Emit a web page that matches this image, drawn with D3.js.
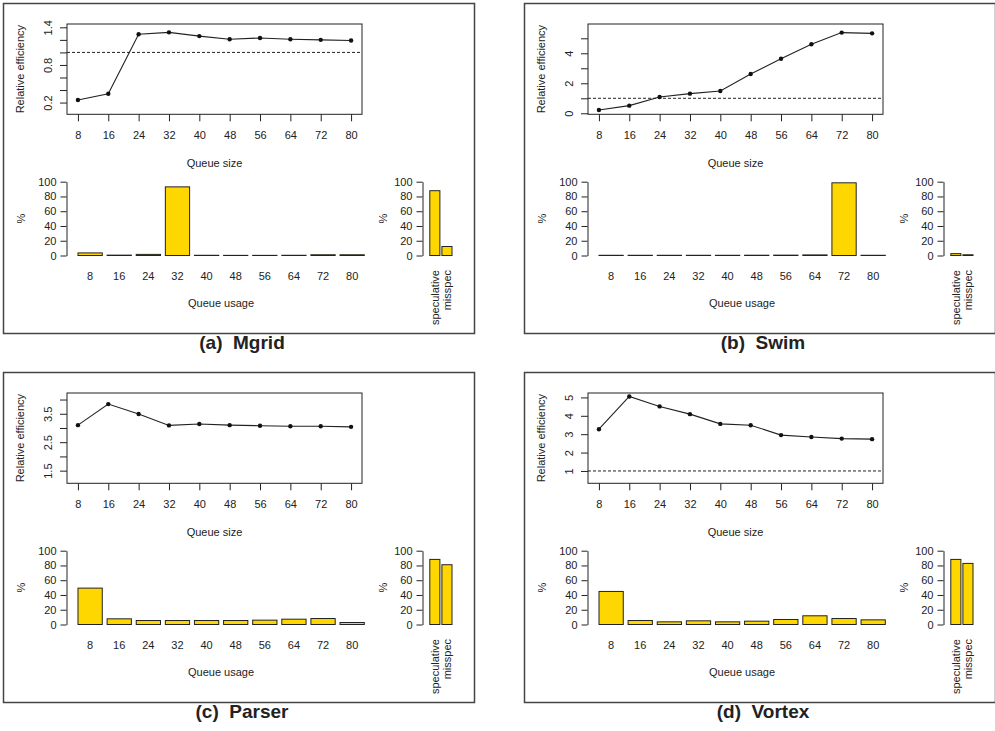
<!DOCTYPE html>
<html>
<head>
<meta charset="utf-8">
<script src="https://cdn.jsdelivr.net/npm/d3@7"></script>
<style>
  body { margin: 0; background: #fff; }
  text { font-family: "Liberation Sans", Arial, Helvetica, sans-serif; fill: #222; }
</style>
</head>
<body>
<div id="chart"></div>
<script>
// queue sizes on the x axis of every line plot and bar plot
let queueSizes = [8, 16, 24, 32, 40, 48, 56, 64, 72, 80];
let specLabels = ["speculative", "misspec"];

// relative efficiency (line plots)
let effMgrid  = [0.24, 0.34, 1.29, 1.32, 1.26, 1.21, 1.23, 1.21, 1.20, 1.19];
let effSwim   = [0.22, 0.51, 1.09, 1.31, 1.49, 2.62, 3.64, 4.60, 5.38, 5.33];
let effParser = [3.10, 3.84, 3.49, 3.09, 3.14, 3.10, 3.08, 3.06, 3.06, 3.04];
let effVortex = [3.27, 5.05, 4.51, 4.09, 3.56, 3.49, 2.95, 2.85, 2.76, 2.73];

// queue usage in % (bar plots)
let usageMgrid  = [3.5, 0.5, 1.5, 93, 0.3, 0.2, 0.2, 0.3, 1, 1];
let usageSwim   = [0.3, 0.3, 0.3, 0.3, 0.3, 0.4, 0.5, 0.8, 98.5, 0.3];
let usageParser = [49.3, 7.7, 5.4, 5.4, 5.4, 5.4, 5.9, 7.2, 8.1, 2.7];
let usageVortex = [44.8, 5.4, 3.6, 5, 3.6, 4.5, 6.8, 11.8, 8.1, 6.3];

// speculative / misspec in %
let specMgrid  = [87.8, 12.2];
let specSwim   = [2.5, 1];
let specParser = [88.2, 81];
let specVortex = [88.2, 82.8];

// y ticks of the line plots, and which of them carry a label
let ticksMgrid  = [0.2, 0.4, 0.6, 0.8, 1.0, 1.2, 1.4],  labelsMgrid  = [0.2, 0.8, 1.4];
let ticksSwim   = [0, 1, 2, 3, 4, 5],                  labelsSwim   = [0, 2, 4];
let ticksParser = [1.5, 2, 2.5, 3, 3.5, 4],            labelsParser = [1.5, 2.5, 3.5];
let ticksVortex = [1, 2, 3, 4, 5],                     labelsVortex = [1, 2, 3, 4, 5];

let pctTicks = [0, 20, 40, 60, 80, 100];

let panels = [
    {title: "(a)  Mgrid",  dx: 0,   dy: 0,   eff: effMgrid,  usage: usageMgrid,  spec: specMgrid,  ticks: ticksMgrid,  labels: labelsMgrid,  ydom: [0.013, 1.453]},
    {title: "(b)  Swim",   dx: 521, dy: 0,   eff: effSwim,   usage: usageSwim,   spec: specSwim,   ticks: ticksSwim,   labels: labelsSwim,   ydom: [-0.067, 5.953]},
    {title: "(c)  Parser", dx: 0,   dy: 369, eff: effParser, usage: usageParser, spec: specParser, ticks: ticksParser, labels: labelsParser, ydom: [1.055, 4.23]},
    {title: "(d)  Vortex", dx: 521, dy: 369, eff: effVortex, usage: usageVortex, spec: specVortex, ticks: ticksVortex, labels: labelsVortex, ydom: [0.329, 5.24]}
];

let width = 995, height = 731;

let svg = d3.select("#chart").append("svg")
    .attr("width", width)
    .attr("height", height);

// layout of one panel (relative to its corner)
let box = {x0: 67, x1: 362, y0: 24, y1: 114.3};
let barTop = 181.7, barBase = 255.5;

let x = d3.scaleLinear()
    .domain([8 - 2.88, 80 + 2.88])
    .range([box.x0, box.x1]);

let xBar = d3.scaleBand()
    .domain(queueSizes)
    .range([78, 364.3])
    .paddingInner(1 / 6)
    .paddingOuter(0);

let xSpec = d3.scaleBand()
    .domain(specLabels)
    .range([429.8, 452])
    .paddingInner(1 / 6)
    .paddingOuter(0);

let yPct = d3.scaleLinear()
    .domain([0, 100])
    .range([barBase, barTop]);

panels.forEach(function(p) {
    let g = svg.append("g")
        .attr("transform", "translate(" + p.dx + "," + p.dy + ")");

    // outer frame
    g.append("rect")
        .attr("x", 3.5)
        .attr("y", 3.5)
        .attr("width", 471)
        .attr("height", 330)
        .attr("fill", "none")
        .attr("stroke", "#444")
        .attr("stroke-width", 1.5);

    // caption
    g.append("text")
        .attr("x", 242)
        .attr("y", 349)
        .attr("text-anchor", "middle")
        .style("font-size", "19px")
        .style("font-weight", "bold")
        .style("white-space", "pre")
        .text(p.title);

    // ---- line plot ----
    let y = d3.scaleLinear()
        .domain(p.ydom)
        .range([box.y1, box.y0]);

    let yAxis = d3.axisLeft(y)
        .tickValues(p.ticks)
        .tickSize(7)
        .tickSizeOuter(0)
        .tickFormat(function(d) { return p.labels.indexOf(d) >= 0 ? String(d) : ""; });

    let ya = g.append("g")
        .attr("transform", "translate(" + box.x0 + ",0)")
        .call(yAxis);
    ya.select(".domain").remove();
    ya.selectAll("line").attr("stroke", "#222");
    ya.selectAll("text")
        .attr("x", null)
        .attr("dy", null)
        .attr("text-anchor", "middle")
        .attr("transform", "translate(-15,0) rotate(-90)")
        .style("font-size", "11px");

    let xAxis = d3.axisBottom(x)
        .tickValues(queueSizes)
        .tickSize(7)
        .tickSizeOuter(0)
        .tickPadding(10);

    let xa = g.append("g")
        .attr("transform", "translate(0," + box.y1 + ")")
        .call(xAxis);
    xa.select(".domain").remove();
    xa.selectAll("line").attr("stroke", "#222");
    xa.selectAll("text").style("font-size", "11px");

    // reference line at 1
    if (p.ydom[0] < 1) {
        g.append("line")
            .attr("x1", box.x0)
            .attr("x2", box.x1)
            .attr("y1", y(1))
            .attr("y2", y(1))
            .attr("stroke", "#222")
            .attr("stroke-width", 1)
            .attr("stroke-dasharray", "3,2");
    }

    let line = d3.line()
        .x(function(d, i) { return x(queueSizes[i]); })
        .y(function(d) { return y(d); });

    g.append("path")
        .datum(p.eff)
        .attr("d", line)
        .attr("fill", "none")
        .attr("stroke", "#222")
        .attr("stroke-width", 1.1);

    g.selectAll(".pt")
        .data(p.eff)
        .enter().append("circle")
        .attr("class", "pt")
        .attr("cx", function(d, i) { return x(queueSizes[i]); })
        .attr("cy", function(d) { return y(d); })
        .attr("r", 2.2)
        .attr("fill", "#111");

    g.append("rect")
        .attr("x", box.x0)
        .attr("y", box.y0)
        .attr("width", box.x1 - box.x0)
        .attr("height", box.y1 - box.y0)
        .attr("fill", "none")
        .attr("stroke", "#222")
        .attr("stroke-width", 1);

    g.append("text")
        .attr("transform", "translate(24," + ((box.y0 + box.y1) / 2) + ") rotate(-90)")
        .attr("text-anchor", "middle")
        .style("font-size", "11px")
        .text("Relative efficiency");

    g.append("text")
        .attr("x", (box.x0 + box.x1) / 2)
        .attr("y", 166.5)
        .attr("text-anchor", "middle")
        .style("font-size", "11px")
        .text("Queue size");

    // ---- queue usage bars ----
    let pctAxis = d3.axisLeft(yPct)
        .tickValues(pctTicks)
        .tickSize(6)
        .tickSizeOuter(0)
        .tickPadding(4);

    let pa = g.append("g")
        .attr("transform", "translate(66.5,0)")
        .call(pctAxis);
    pa.selectAll("line, path").attr("stroke", "#222");
    pa.selectAll("text").style("font-size", "11px");

    g.selectAll(".bar")
        .data(p.usage)
        .enter().append("rect")
        .attr("class", "bar")
        .attr("x", function(d, i) { return xBar(queueSizes[i]); })
        .attr("y", function(d) { return yPct(d); })
        .attr("width", xBar.bandwidth())
        .attr("height", function(d) { return barBase - yPct(d); })
        .attr("fill", "#FFD700")
        .attr("stroke", "#222")
        .attr("stroke-width", 1);

    g.selectAll(".barlab")
        .data(queueSizes)
        .enter().append("text")
        .attr("class", "barlab")
        .attr("x", function(d) { return xBar(d) + xBar.bandwidth() / 2; })
        .attr("y", 280)
        .attr("text-anchor", "middle")
        .style("font-size", "11px")
        .text(function(d) { return d; });

    g.append("text")
        .attr("x", 221)
        .attr("y", 306.5)
        .attr("text-anchor", "middle")
        .style("font-size", "11px")
        .text("Queue usage");

    g.append("text")
        .attr("transform", "translate(24.5," + ((barTop + barBase) / 2) + ") rotate(-90)")
        .attr("text-anchor", "middle")
        .style("font-size", "11px")
        .text("%");

    // ---- speculative / misspec bars ----
    let sa = g.append("g")
        .attr("transform", "translate(422.5,0)")
        .call(pctAxis);
    sa.selectAll("line, path").attr("stroke", "#222");
    sa.selectAll("text").style("font-size", "11px");

    g.selectAll(".sbar")
        .data(p.spec)
        .enter().append("rect")
        .attr("class", "sbar")
        .attr("x", function(d, i) { return xSpec(specLabels[i]); })
        .attr("y", function(d) { return yPct(d); })
        .attr("width", xSpec.bandwidth())
        .attr("height", function(d) { return barBase - yPct(d); })
        .attr("fill", "#FFD700")
        .attr("stroke", "#222")
        .attr("stroke-width", 1);

    g.selectAll(".slab")
        .data(specLabels)
        .enter().append("text")
        .attr("class", "slab")
        .attr("transform", function(d) {
            return "translate(" + (xSpec(d) + xSpec.bandwidth() / 2 + 3.8) + ",270) rotate(-90)";
        })
        .attr("text-anchor", "end")
        .style("font-size", "11px")
        .text(function(d) { return d; });

    g.append("text")
        .attr("transform", "translate(387," + ((barTop + barBase) / 2) + ") rotate(-90)")
        .attr("text-anchor", "middle")
        .style("font-size", "11px")
        .text("%");
});
</script>
</body>
</html>
